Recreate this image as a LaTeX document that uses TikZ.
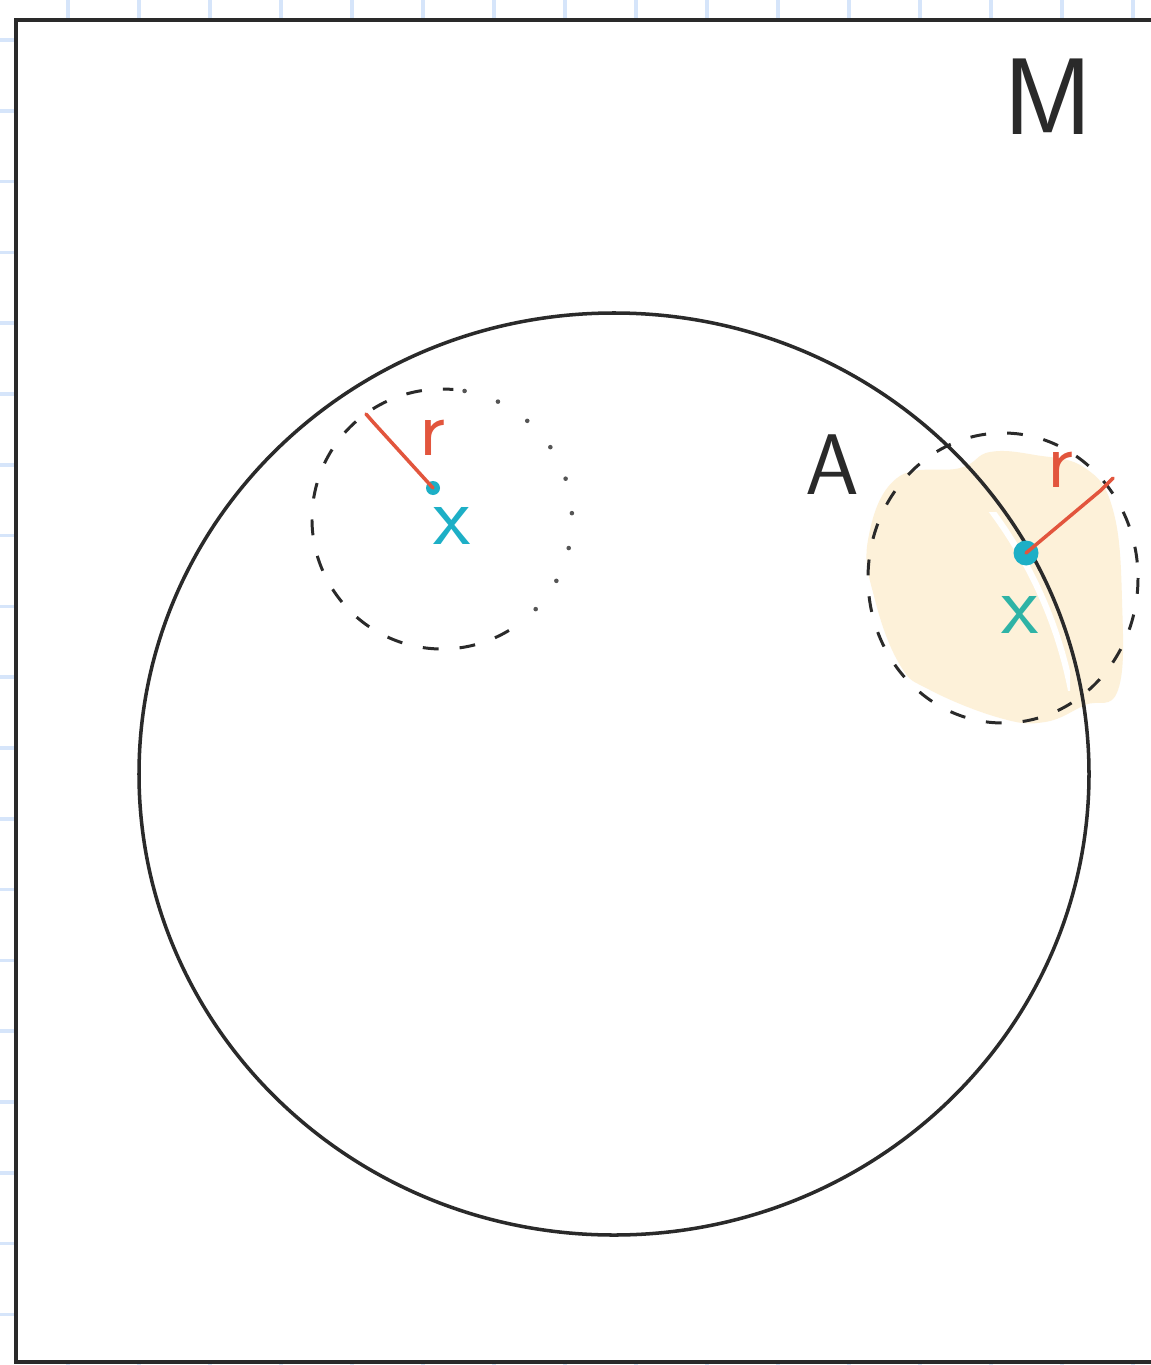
\documentclass[tikz,border=0pt]{standalone}
\usepackage{tikz}
\usetikzlibrary{calc}
\definecolor{rahmen}{HTML}{2A2A2A}
\definecolor{gitter}{HTML}{D6E5FA}
\definecolor{sand}{HTML}{FDF1D9}
\definecolor{rot}{HTML}{E2553D}
\definecolor{tuerkis}{HTML}{1DAFC6}
\definecolor{tuerkisg}{HTML}{2EB3A6}
\tikzset{
  rand/.style={draw=rahmen,line width=2.3pt},
  kreis/.style={rahmen,line width=2pt},
  umg/.style={rahmen,line width=1.7pt,dash pattern=on 9pt off 12pt},
  umgp/.style={rahmen!80,line width=2.6pt,line cap=round,dash pattern=on 0pt off 20pt},
  radlinie/.style={rot,line width=2pt,line cap=round,line join=round},
  punkt/.style={circle,fill=tuerkis,inner sep=0pt,minimum size=0.28cm},
  schrift/.style={font=\sffamily\fontsize{49}{50}\selectfont,inner sep=0pt},
}
\begin{document}
\begin{tikzpicture}[x=0.02cm,y=-0.02cm]
  \useasboundingbox (0,0) rectangle (1151,1365);
  \foreach \gx in {0,...,15} \draw[gitter,line width=2pt] ({68+71*\gx},0) -- ({68+71*\gx},1365);
  \foreach \gy in {0,...,18} \draw[gitter,line width=2pt] (0,{40+70.8*\gy}) -- (1151,{40+70.8*\gy});
  \draw[rand,fill=white] (16,20) rectangle (1175,1362);
  \node[schrift,font=\sffamily\fontsize{62}{64}\selectfont,rahmen] (M) at (1048,97) {M};
  % Umgebung am Rand
  \fill[sand] plot[smooth cycle,tension=0.7] coordinates {(897,478) (960,468) (990,452) (1035,455) (1085,468) (1113,510) (1122,600) (1118,690) (1085,705) (1045,722) (1000,718) (930,690) (900,665) (875,600) (868,540)};
  \begin{scope}
    \clip (982,512) rectangle (1070,690);
    \draw[white,line width=3.5pt] (614,774) ellipse [x radius=465,y radius=451];
  \end{scope}
  \draw[kreis] (614,774) ellipse [x radius=475,y radius=461];
  \draw[umg] (1003,578) ellipse [x radius=135,y radius=145];
  \node[schrift,rahmen] (A) at (832,465) {A};
  % innere Umgebung
  \draw[umg] (442,519) ++(59:130) arc[start angle=59,end angle=275,radius=130];
  \draw[umgp] (442,519) ++(280:130) arc[start angle=280,end angle=419,radius=130];
  \node[punkt] (xl) at (433,488) {};
  \coordinate (rl) at (366,414);
  \draw[radlinie] (xl.center) -- (373,422) -- (rl);
  \node[schrift,rot,font=\sffamily\fontsize{46}{48}\selectfont] (rlab) at (432,438) {r};
  \node[schrift,tuerkis] (xlab) at (452,526) {x};
  % Randpunkt
  \node[punkt,minimum size=0.5cm] (xr) at (1026,553) {};
  \coordinate (rr) at (1113,478);
  \draw[radlinie] (xr.center) -- (1100,491) -- (rr);
  \node[schrift,rot,font=\sffamily\fontsize{46}{48}\selectfont] (rrlab) at (1060,470) {r};
  \node[schrift,tuerkisg] (xrlab) at (1020,615) {x};
\end{tikzpicture}
\end{document}
